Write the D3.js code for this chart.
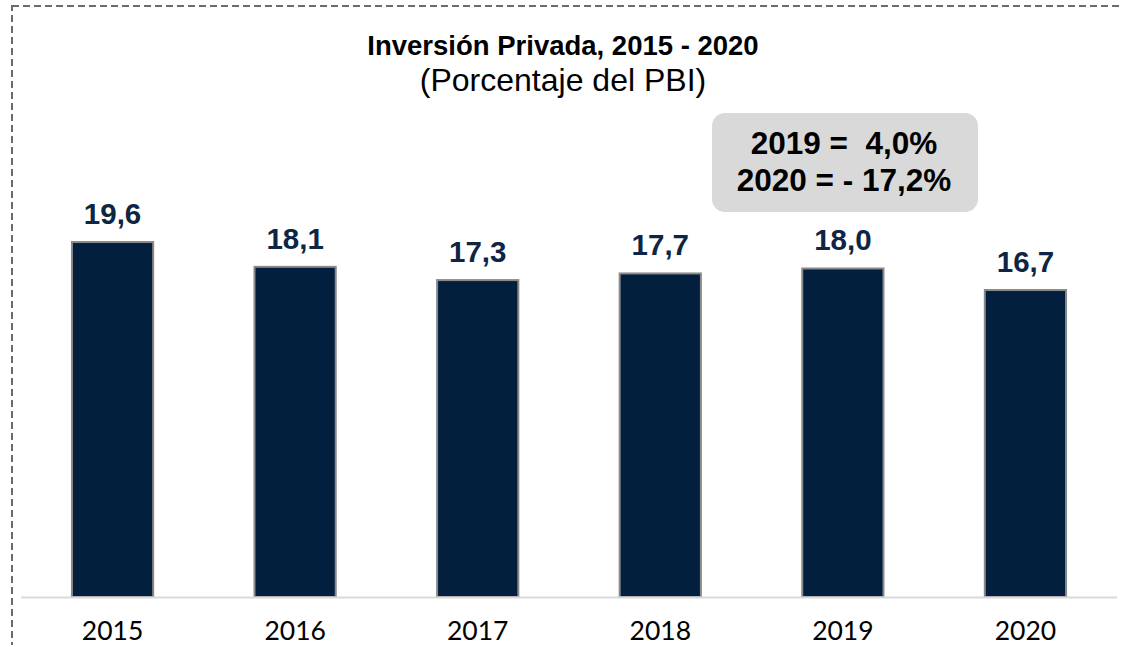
<!DOCTYPE html>
<html>
<head>
<meta charset="utf-8">
<script src="https://cdn.jsdelivr.net/npm/d3@7"></script>
<style>
  html, body { margin: 0; padding: 0; background: #fff; }
  #chart { width: 1122px; height: 645px; }
</style>
</head>
<body>
<div id="chart"></div>
<script>
//Datos
const years = ['2015', '2016', '2017', '2018', '2019', '2020'];
const values = [19.6, 18.1, 17.3, 17.7, 18.0, 16.7];
const notes = ['2019 =  4,0%', '2020 = - 17,2%'];
const title = 'Inversión Privada, 2015 - 2020';
const subtitle = '(Porcentaje del PBI)';

//Colores fijos
const COLOR_BAR = '#02203E',
  COLOR_BAR_STROKE = '#8A8A8A',
  COLOR_LABEL = '#0E2643',
  COLOR_BOX = '#D9D9D9',
  COLOR_BASE = '#D9D9D9';

let width = 1122, height = 645;

let svg = d3.select('#chart')
  .append('svg')
    .attr('width', width)
    .attr('height', height);

//Borde punteado
svg.append('rect')
  .attr('x', 12).attr('y', 6)
  .attr('width', 1200).attr('height', 700)
  .attr('fill', 'none')
  .attr('stroke', '#6B6B6B')
  .attr('stroke-width', 2)
  .attr('stroke-dasharray', '7,4');

//Ejes
let x = d3.scaleBand()
  .domain(years)
  .range([21, 1117])
  .paddingInner(0.555)
  .paddingOuter(0.279);

let y = d3.scaleLinear()
  .domain([-1.85, 20])
  .range([597, 235.4]);

//Barras
svg.append('g')
  .selectAll('rect')
  .data(values)
  .enter()
  .append('rect')
    .attr('x', function(d, i) { return x(years[i]); })
    .attr('y', function(d) { return y(d); })
    .attr('width', x.bandwidth())
    .attr('height', function(d) { return y.range()[0] - y(d); })
    .attr('fill', COLOR_BAR)
    .attr('stroke', COLOR_BAR_STROKE)
    .attr('stroke-width', 2);

//Linea base
svg.append('line')
  .attr('x1', x.range()[0]).attr('x2', x.range()[1])
  .attr('y1', 597.5).attr('y2', 597.5)
  .attr('stroke', COLOR_BASE)
  .attr('stroke-width', 2);

//Eje X (solo etiquetas)
let xAxis = svg.append('g')
  .attr('transform', 'translate(0,597)')
  .call(d3.axisBottom(x).tickSize(0).tickPadding(24));
xAxis.select('.domain').remove();
xAxis.selectAll('text')
  .attr('font-family', 'Lato, "Open Sans", sans-serif')
  .attr('font-size', 26.5)
  .attr('fill', '#000');

//Etiquetas de valor
svg.append('g')
  .selectAll('text')
  .data(values)
  .enter()
  .append('text')
    .attr('x', function(d, i) { return x(years[i]) + x.bandwidth() / 2; })
    .attr('y', function(d) { return y(d) - 18; })
    .attr('text-anchor', 'middle')
    .attr('font-family', '"Liberation Sans", Arial, sans-serif')
    .attr('font-weight', 'bold')
    .attr('font-size', 29.5)
    .attr('fill', COLOR_LABEL)
    .text(function(d) { return d3.format('.1f')(d).replace('.', ','); });

//Titulo
svg.append('text')
  .attr('x', 563).attr('y', 55)
  .attr('text-anchor', 'middle')
  .attr('font-family', '"Liberation Sans", Arial, sans-serif')
  .attr('font-weight', 'bold')
  .attr('font-size', 27.5)
  .text(title);

svg.append('text')
  .attr('x', 563).attr('y', 91)
  .attr('text-anchor', 'middle')
  .attr('font-family', '"Liberation Sans", Arial, sans-serif')
  .attr('font-size', 32)
  .text(subtitle);

//Recuadro de variaciones
let note = svg.append('g');
note.append('rect')
  .attr('x', 712).attr('y', 113)
  .attr('width', 266).attr('height', 99)
  .attr('rx', 13)
  .attr('fill', COLOR_BOX);

note.selectAll('text')
  .data(notes)
  .enter()
  .append('text')
    .attr('x', 844)
    .attr('y', function(d, i) { return 154 + i * 37; })
    .attr('text-anchor', 'middle')
    .attr('xml:space', 'preserve')
    .style('white-space', 'pre')
    .attr('font-family', '"Liberation Sans", Arial, sans-serif')
    .attr('font-weight', 'bold')
    .attr('font-size', 31.5)
    .attr('fill', '#000')
    .text(function(d) { return d; });
</script>
</body>
</html>
